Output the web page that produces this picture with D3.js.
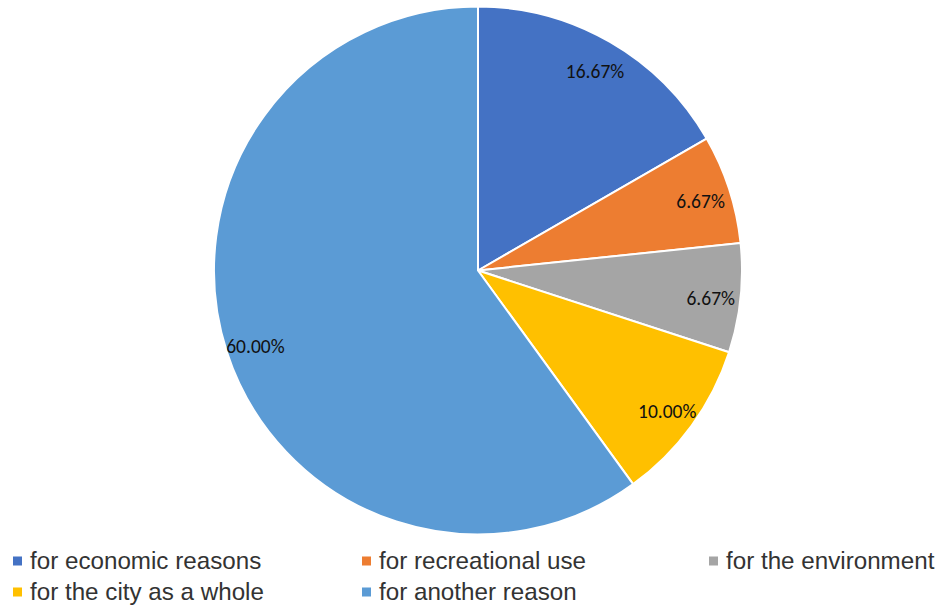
<!DOCTYPE html>
<html>
<head>
<meta charset="utf-8">
<script src="https://cdn.jsdelivr.net/npm/d3@7"></script>
<style>
  body { margin: 0; background: #fff; }
</style>
</head>
<body>
<div id="chart"></div>
<script>
// Pie chart - reasons

const categories = ['for economic reasons', 'for recreational use', 'for the environment', 'for the city as a whole', 'for another reason'];
const values = [16.67, 6.67, 6.67, 10.00, 60.00];
const colors = ['#4472C4', '#ED7D31', '#A5A5A5', '#FFC000', '#5B9BD5'];

const W = 940, H = 606;
const cx = 478, cy = 270.5, R = 264;

const svg = d3.select('#chart')
  .append('svg')
  .attr('width', W)
  .attr('height', H);

const pie = d3.pie().sort(null).value(d => d.value);
const arcs = pie(categories.map((c, i) => ({ name: c, value: values[i], color: colors[i] })));

const arc = d3.arc().innerRadius(0).outerRadius(R);
const labelArc = d3.arc().innerRadius(234).outerRadius(234);

const g = svg.append('g').attr('transform', `translate(${cx},${cy})`);

g.selectAll('path')
  .data(arcs)
  .enter().append('path')
  .attr('d', arc)
  .attr('fill', d => d.data.color)
  .attr('stroke', '#fff')
  .attr('stroke-width', 2);

g.selectAll('text')
  .data(arcs)
  .enter().append('text')
  .attr('transform', d => `translate(${labelArc.centroid(d)})`)
  .attr('text-anchor', 'middle')
  .attr('dy', '0.5em')
  .attr('font-family', 'Carlito, "Open Sans", sans-serif')
  .attr('font-size', 19.5)
  .attr('fill', '#111')
  .text(d => d.data.value.toFixed(2) + '%');

// Legend
const legendX = [13, 362, 709];
const legendY = [561, 592];
const legend = svg.append('g');
categories.forEach((c, i) => {
  const x = legendX[i % 3], y = legendY[Math.floor(i / 3)];
  const item = legend.append('g').attr('transform', `translate(${x},${y})`);
  item.append('rect')
    .attr('x', 0).attr('y', -4.5)
    .attr('width', 9).attr('height', 9)
    .attr('fill', colors[i]);
  item.append('text')
    .attr('x', 17)
    .attr('dy', '0.35em')
    .attr('font-family', '"Liberation Sans", Arial, sans-serif')
    .attr('font-size', 24.2)
    .attr('fill', '#333')
    .text(c);
});
</script>
</body>
</html>
